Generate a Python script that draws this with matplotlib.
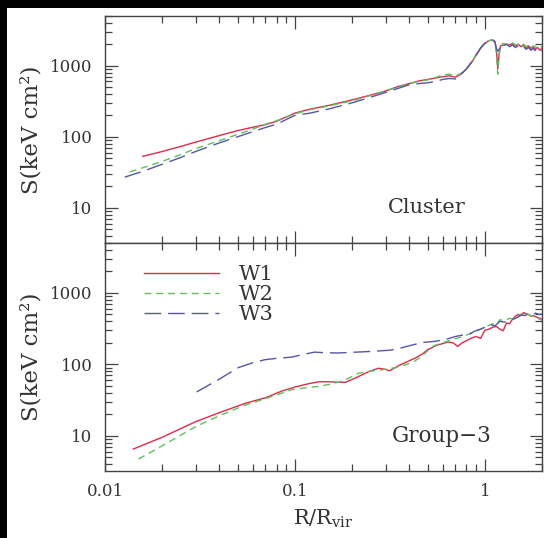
import matplotlib
matplotlib.use("Agg")
import matplotlib.pyplot as plt
from matplotlib.patches import Rectangle
from matplotlib.ticker import LogLocator, FixedLocator, FixedFormatter, NullFormatter

plt.rcParams['font.family'] = ['DejaVu Serif']
plt.rcParams['mathtext.fontset'] = 'dejavuserif'

# ---- entropy profiles, Cluster ----
cl_w1_r = [0.0158, 0.02, 0.025, 0.03, 0.04, 0.05, 0.06, 0.07, 0.08, 0.1, 0.12, 0.15,
           0.2, 0.25, 0.3, 0.35, 0.4, 0.45, 0.5, 0.55, 0.6, 0.65, 0.7, 0.75, 0.8,
           0.85, 0.9, 0.95, 1.0, 1.05, 1.1, 1.13, 1.15, 1.17, 1.19, 1.21, 1.25, 1.3,
           1.35, 1.4, 1.45, 1.5, 1.55, 1.6, 1.65, 1.7, 1.75, 1.8, 1.85, 1.9, 1.95, 2.0]
cl_w1_s = [53, 62, 73, 84, 104, 122, 136, 148, 165, 215, 245, 275,
           330, 385, 440, 510, 560, 610, 640, 670, 700, 720, 690, 760, 900,
           1100, 1400, 1750, 2050, 2250, 2300, 2200, 1700, 900, 1500, 1900, 1950, 2000,
           1950, 2050, 1900, 2000, 1850, 1950, 1800, 1900, 1750, 1850, 1700, 1800, 1650, 1750]

cl_w2_r = [0.0135, 0.016, 0.02, 0.025, 0.03, 0.04, 0.05, 0.06, 0.07, 0.08, 0.1, 0.12,
           0.15, 0.2, 0.25, 0.3, 0.35, 0.4, 0.45, 0.5, 0.55, 0.6, 0.65, 0.7, 0.75,
           0.8, 0.85, 0.9, 0.95, 1.0, 1.05, 1.1, 1.13, 1.15, 1.17, 1.19, 1.21, 1.25,
           1.3, 1.35, 1.4, 1.45, 1.5, 1.55, 1.6, 1.65, 1.7, 1.75, 1.8, 1.85, 1.9, 1.95, 2.0]
cl_w2_s = [32, 37, 45, 56, 68, 88, 108, 128, 150, 168, 210, 240,
           270, 320, 380, 440, 500, 560, 600, 630, 680, 740, 760, 720, 780,
           900, 1120, 1420, 1780, 2080, 2250, 2300, 2150, 1500, 760, 1400, 1950, 2050,
           2000, 1950, 2100, 1950, 2000, 1900, 2000, 1850, 1950, 1800, 1900, 1850, 1750, 1900, 1800]

cl_w3_r = [0.0127, 0.016, 0.02, 0.025, 0.03, 0.04, 0.05, 0.06, 0.07, 0.08, 0.1, 0.12,
           0.15, 0.2, 0.25, 0.3, 0.35, 0.4, 0.45, 0.5, 0.55, 0.6, 0.65, 0.7, 0.75,
           0.8, 0.85, 0.9, 0.95, 1.0, 1.05, 1.1, 1.13, 1.15, 1.17, 1.19, 1.21, 1.25,
           1.3, 1.35, 1.4, 1.45, 1.5, 1.55, 1.6, 1.65, 1.7, 1.75, 1.8, 1.85, 1.9, 1.95, 2.0]
cl_w3_s = [27, 33, 41, 51, 62, 82, 100, 118, 135, 150, 200, 215,
           245, 300, 360, 420, 480, 540, 560, 575, 600, 640, 660, 650, 760,
           900, 1120, 1420, 1780, 2080, 2230, 2280, 2150, 1750, 1600, 1700, 1950, 1900,
           2000, 1850, 1950, 1800, 1900, 1750, 1850, 1700, 1800, 1650, 1750, 1600, 1700, 1650, 1600]

# ---- entropy profiles, Group-3 ----
g3_w1_r = [0.0141, 0.02, 0.03, 0.04, 0.055, 0.07, 0.085, 0.1, 0.12, 0.135, 0.15, 0.17,
           0.185, 0.21, 0.245, 0.275, 0.3, 0.315, 0.35, 0.4, 0.43, 0.47, 0.5, 0.56,
           0.64, 0.68, 0.72, 0.76, 0.8, 0.85, 0.9, 0.95, 1.0, 1.05, 1.1, 1.15, 1.2,
           1.25, 1.3, 1.35, 1.4, 1.45, 1.5, 1.55, 1.6, 1.65, 1.7, 1.75, 1.8, 1.9, 2.0]
g3_w1_s = [6.5, 9.5, 15.7, 21, 28.5, 34, 42, 48, 54, 57, 57, 56,
           56, 65, 79, 88, 85, 81, 95, 112, 122, 140, 160, 185,
           205, 200, 178, 200, 214, 233, 245, 230, 300, 310, 330, 340, 310,
           295, 380, 370, 430, 470, 500, 480, 530, 510, 500, 470, 480, 450, 430]

g3_w2_r = [0.015, 0.02, 0.03, 0.04, 0.055, 0.07, 0.096, 0.115, 0.133, 0.15, 0.169,
           0.19, 0.216, 0.25, 0.3, 0.34, 0.38, 0.42, 0.46, 0.5, 0.54, 0.6, 0.67,
           0.72, 0.78, 0.85, 0.92, 1.0, 1.04, 1.1, 1.15, 1.2, 1.27, 1.35, 1.4, 1.45,
           1.5, 1.56, 1.62, 1.7, 1.76, 1.83, 1.9, 2.0]
g3_w2_s = [4.7, 7.2, 13.4, 19, 27, 33, 44, 47, 49, 52, 56,
           63, 75, 80, 85, 90, 98, 108, 126, 155, 182, 200, 221,
           233, 250, 275, 300, 330, 347, 370, 350, 420, 410, 440, 430, 460,
           470, 507, 480, 500, 470, 470, 440, 413]

g3_w3_r = [0.0304, 0.04, 0.0504, 0.06, 0.0695, 0.08, 0.096, 0.11, 0.127, 0.145, 0.169,
           0.2, 0.234, 0.27, 0.32, 0.37, 0.42, 0.48, 0.55, 0.64, 0.7, 0.78, 0.83,
           0.88, 0.95, 1.0, 1.07, 1.13, 1.2, 1.27, 1.35, 1.42, 1.5, 1.56, 1.62, 1.7,
           1.76, 1.85, 1.93, 2.0]
g3_w3_s = [41, 62, 90, 105, 116, 121, 126, 137, 148, 145, 144,
           147, 150, 153, 158, 172, 188, 203, 210, 228, 245, 260, 262,
           290, 310, 330, 359, 345, 400, 390, 420, 430, 460, 496, 480, 505,
           496, 520, 500, 507]

series_labels = ["W1", "W2", "W3"]
panel_names = ["Cluster", "Group\u22123"]
x_ticks = [0.01, 0.1, 1]
x_tick_labels = ["0.01", "0.1", "1"]
y_ticks = [10, 100, 1000]
y_tick_labels = ["10", "100", "1000"]

colors = ["#e3294a", "#5cc25c", "#5656a8"]
styles = [dict(linestyle="-"),
          dict(linestyle=(0, (5.0, 3.5))),
          dict(linestyle=(0, (12.0, 5.0)))]

W, H = 544, 538
fig = plt.figure(figsize=(W / 100, H / 100), dpi=100, facecolor="white")
# dark frame strips along the top and left edges
fig.patches.append(Rectangle((0, 1 - 8 / H), 1, 8 / H, transform=fig.transFigure,
                             facecolor="black", edgecolor="none", zorder=0))
fig.patches.append(Rectangle((0, 0), 7 / W, 1, transform=fig.transFigure,
                             facecolor="black", edgecolor="none", zorder=0))

left = 105 / W
width = 437 / W
ax_top = fig.add_axes([left, 1 - 243 / H, width, 227 / H])
ax_bot = fig.add_axes([left, 1 - 471 / H, width, 228 / H])

spine_col = "#444444"
text_col = "#333333"
for ax in (ax_top, ax_bot):
    ax.set_xscale("log")
    ax.set_yscale("log")
    ax.set_xlim(0.01, 2.0)
    ax.set_ylim(3.2, 5000)
    ax.xaxis.set_major_locator(FixedLocator(x_ticks))
    ax.xaxis.set_minor_locator(LogLocator(base=10, subs=range(2, 10), numticks=20))
    ax.yaxis.set_major_locator(FixedLocator(y_ticks))
    ax.yaxis.set_major_formatter(FixedFormatter(y_tick_labels))
    ax.yaxis.set_minor_locator(LogLocator(base=10, subs=range(2, 10), numticks=20))
    ax.xaxis.set_minor_formatter(NullFormatter())
    ax.yaxis.set_minor_formatter(NullFormatter())
    ax.tick_params(which="both", direction="in", top=True, right=True,
                   color=spine_col, width=0.9, labelsize=12, labelcolor=text_col)
    ax.tick_params(which="major", length=9, pad=9)
    ax.tick_params(which="minor", length=5)
    for sp in ax.spines.values():
        sp.set_color(spine_col)
        sp.set_linewidth(1.0)
    ax.set_ylabel("S(keV cm\u00b2)", fontsize=16.5, color=text_col)
    ax.yaxis.set_label_coords(-0.143, 0.5)

ax_top.xaxis.set_major_formatter(NullFormatter())
ax_bot.xaxis.set_major_formatter(FixedFormatter(x_tick_labels))
ax_bot.set_xlabel(r"R/R$_{\mathrm{vir}}$", fontsize=15, color=text_col, labelpad=5)

cluster = [(cl_w1_r, cl_w1_s), (cl_w2_r, cl_w2_s), (cl_w3_r, cl_w3_s)]
group3 = [(g3_w1_r, g3_w1_s), (g3_w2_r, g3_w2_s), (g3_w3_r, g3_w3_s)]

for (r, s), c, st in zip(cluster, colors, styles):
    ax_top.plot(r, s, color=c, lw=1.0, **st)
for (r, s), c, st, lab in zip(group3, colors, styles, series_labels):
    ax_bot.plot(r, s, color=c, lw=1.0, label=lab, **st)

ax_top.text(0.737, 0.155, panel_names[0], transform=ax_top.transAxes,
            fontsize=15, color=text_col, ha="center", va="center")
ax_bot.text(0.771, 0.152, panel_names[1], transform=ax_bot.transAxes,
            fontsize=15.5, color=text_col, ha="center", va="center")

leg = ax_bot.legend(loc="upper left", bbox_to_anchor=(0.07, 0.94), frameon=False,
                    fontsize=15, handlelength=3.6, handletextpad=0.95,
                    labelspacing=0.05, borderaxespad=0)
for t in leg.get_texts():
    t.set_color(text_col)

fig.savefig("out.png", dpi=100, facecolor="white")
